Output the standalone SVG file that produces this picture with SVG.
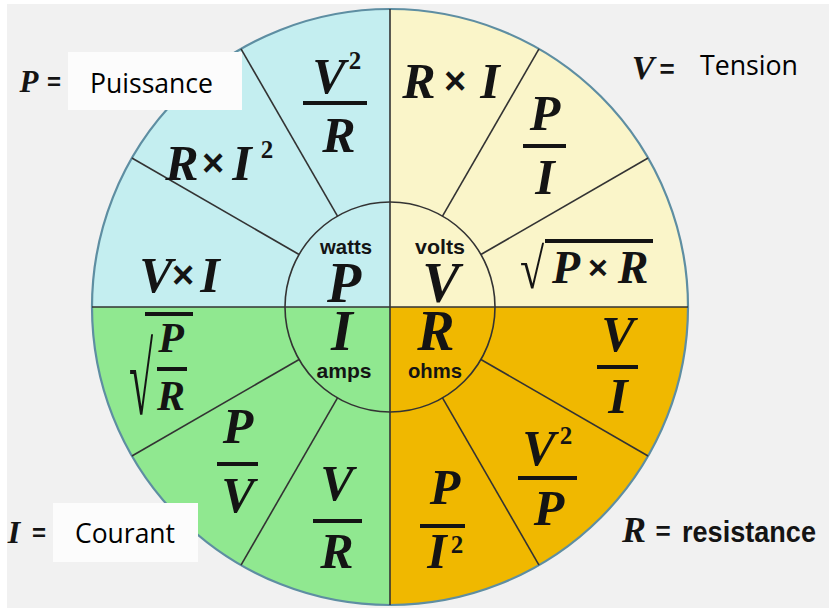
<svg xmlns="http://www.w3.org/2000/svg" width="829" height="611" viewBox="0 0 829 611">
<style>
.f{font-family:"Liberation Serif","Times New Roman",serif;font-weight:bold;font-style:italic;fill:#141414;font-size:50px;text-anchor:middle}
.sup{font-family:"Liberation Serif","Times New Roman",serif;font-weight:bold;fill:#141414;font-size:25px;text-anchor:middle}
.x{font-family:"Liberation Sans",Arial,sans-serif;font-weight:bold;fill:#141414;font-size:38px;text-anchor:middle}
.big{font-size:56px}
.s{font-family:"Liberation Sans Narrow","Liberation Sans",Arial,sans-serif;font-weight:bold;fill:#141414;font-size:21px;text-anchor:middle}
.c{font-family:"Open Sans","Noto Sans",sans-serif;fill:#000;font-size:28px}
.bar{stroke:#141414;stroke-width:4}
.div{stroke:#333;stroke-width:1.6;fill:none}
.rad{font-family:"Liberation Serif","Times New Roman",serif;fill:#141414}
</style>
<rect x="0" y="0" width="829" height="611" fill="#ffffff"/>
<rect x="7" y="4" width="822" height="604" fill="#f1f1f1"/>

<g id="quadrants">
<path id="q-power" d="M390,307 L92,307 A298,298 0 0 1 390,9 Z" fill="#c4eef0"/>
<path id="q-voltage" d="M390,307 L390,9 A298,298 0 0 1 688,307 Z" fill="#faf5c9"/>
<path id="q-resistance" d="M390,307 L688,307 A298,298 0 0 1 390,605 Z" fill="#f0b800"/>
<path id="q-current" d="M390,307 L390,605 A298,298 0 0 1 92,307 Z" fill="#90e890"/>
</g>

<g id="connectors">
<circle cx="390" cy="307" r="298" fill="none" stroke="#5e8ea2" stroke-width="2.2"/>
<circle cx="390" cy="307" r="105" fill="none" stroke="#333" stroke-width="1.6"/>
<line class="div" x1="92" y1="307" x2="688" y2="307" stroke-width="2.2"/>
<line class="div" x1="390" y1="9" x2="390" y2="605" stroke-width="2"/>
<line class="div" x1="480.9" y1="254.5" x2="648.1" y2="158"/>
<line class="div" x1="442.5" y1="216.1" x2="539" y2="48.9"/>
<line class="div" x1="337.5" y1="216.1" x2="241" y2="48.9"/>
<line class="div" x1="299.1" y1="254.5" x2="131.9" y2="158"/>
<line class="div" x1="299.1" y1="359.5" x2="131.9" y2="456"/>
<line class="div" x1="337.5" y1="397.9" x2="241" y2="565.1"/>
<line class="div" x1="442.5" y1="397.9" x2="539" y2="565.1"/>
<line class="div" x1="480.9" y1="359.5" x2="648.1" y2="456"/>
</g>

<g id="label-boxes">
<rect x="68" y="52" width="174" height="58" fill="#fcfcfc"/>
<rect x="53" y="503" width="145" height="59" fill="#fcfcfc"/>
</g>

<g id="center-P">
<text class="s" x="346" y="254" textLength="52" lengthAdjust="spacingAndGlyphs">watts</text>
<text class="f big" x="344" y="302">P</text>
</g>
<g id="center-V">
<text class="s" x="440" y="254" textLength="50" lengthAdjust="spacingAndGlyphs">volts</text>
<text class="f big" x="441" y="302">V</text>
</g>
<g id="center-I">
<text class="s" x="344" y="378" textLength="55" lengthAdjust="spacingAndGlyphs">amps</text>
<text class="f big" x="342" y="350">I</text>
</g>
<g id="center-R">
<text class="s" x="435" y="378" textLength="54" lengthAdjust="spacingAndGlyphs">ohms</text>
<text class="f big" x="436" y="350">R</text>
</g>

<g id="P-V2-over-R">
<text class="f" x="329" y="93">V</text>
<text class="sup" x="355" y="69">2</text>
<line class="bar" x1="303" y1="103" x2="367" y2="103"/>
<text class="f" x="339" y="152">R</text>
</g>
<g id="P-R-times-I2">
<text class="f" x="182" y="180">R</text>
<text class="x" x="213" y="176">×</text>
<text class="f" x="242" y="180">I</text>
<text class="sup" x="267" y="158">2</text>
</g>
<g id="P-V-times-I">
<text class="f" x="156" y="292">V</text>
<text class="x" x="183" y="288">×</text>
<text class="f" x="210" y="292">I</text>
</g>

<g id="V-R-times-I">
<text class="f" x="419" y="98">R</text>
<text class="x" x="455" y="94">×</text>
<text class="f" x="490" y="98">I</text>
</g>
<g id="V-P-over-I">
<text class="f" x="545" y="130">P</text>
<line class="bar" x1="523" y1="146" x2="566" y2="146"/>
<text class="f" x="545" y="194">I</text>
</g>
<g id="V-sqrt-P-times-R">
<text class="rad" transform="translate(520,288) scale(1,1.3)" font-size="44">√</text>
<line class="bar" x1="545" y1="241" x2="653" y2="241" stroke-width="3"/>
<text class="f" x="566" y="283" style="font-size:46px">P</text>
<text class="x" x="598" y="279" style="font-size:34px">×</text>
<text class="f" x="633" y="283" style="font-size:46px">R</text>
</g>

<g id="I-sqrt-P-over-R">
<text class="rad" transform="translate(129,414) scale(1,2.3)" font-size="44">√</text>
<line class="bar" x1="145" y1="314" x2="193" y2="314" stroke-width="3"/>
<text class="f" x="171" y="352" style="font-size:42px">P</text>
<line class="bar" x1="157" y1="369" x2="187" y2="369"/>
<text class="f" x="171" y="410" style="font-size:42px">R</text>
</g>
<g id="I-P-over-V">
<text class="f" x="238" y="443">P</text>
<line class="bar" x1="217" y1="464" x2="258" y2="464"/>
<text class="f" x="238" y="512">V</text>
</g>
<g id="I-V-over-R">
<text class="f" x="337" y="500">V</text>
<line class="bar" x1="313" y1="521" x2="362" y2="521"/>
<text class="f" x="337" y="568">R</text>
</g>

<g id="R-V-over-I">
<text class="f" x="618" y="351">V</text>
<line class="bar" x1="597" y1="367" x2="638" y2="367"/>
<text class="f" x="618" y="413">I</text>
</g>
<g id="R-V2-over-P">
<text class="f" x="539" y="465">V</text>
<text class="sup" x="566" y="444">2</text>
<line class="bar" x1="518" y1="478" x2="577" y2="478"/>
<text class="f" x="549" y="525">P</text>
</g>
<g id="R-P-over-I2">
<text class="f" x="445" y="504">P</text>
<line class="bar" x1="420" y1="526" x2="465" y2="526"/>
<text class="f" x="437" y="568">I</text>
<text class="sup" x="457" y="553">2</text>
</g>

<g id="legend-P">
<text class="f" x="29" y="92" style="font-size:31px">P</text>
<text class="x" x="54" y="90" style="font-size:24px">=</text>
<text class="c" x="90" y="93" textLength="123" lengthAdjust="spacingAndGlyphs">Puissance</text>
</g>
<g id="legend-V">
<text class="f" x="643" y="79" style="font-size:34px">V</text>
<text class="x" x="667" y="78" style="font-size:26px">=</text>
<text class="c" x="700" y="75" textLength="98" lengthAdjust="spacingAndGlyphs">Tension</text>
</g>
<g id="legend-I">
<text class="f" x="14" y="543" style="font-size:32px">I</text>
<text class="x" x="39" y="541" style="font-size:24px">=</text>
<text class="c" x="75" y="543" textLength="100" lengthAdjust="spacingAndGlyphs">Courant</text>
</g>
<g id="legend-R">
<text class="f" x="634" y="542" style="font-size:36px">R</text>
<text class="x" x="663" y="540" style="font-size:26px">=</text>
<text class="s" x="682" y="542" style="font-size:30px;text-anchor:start" textLength="134" lengthAdjust="spacingAndGlyphs">resistance</text>
</g>
</svg>
